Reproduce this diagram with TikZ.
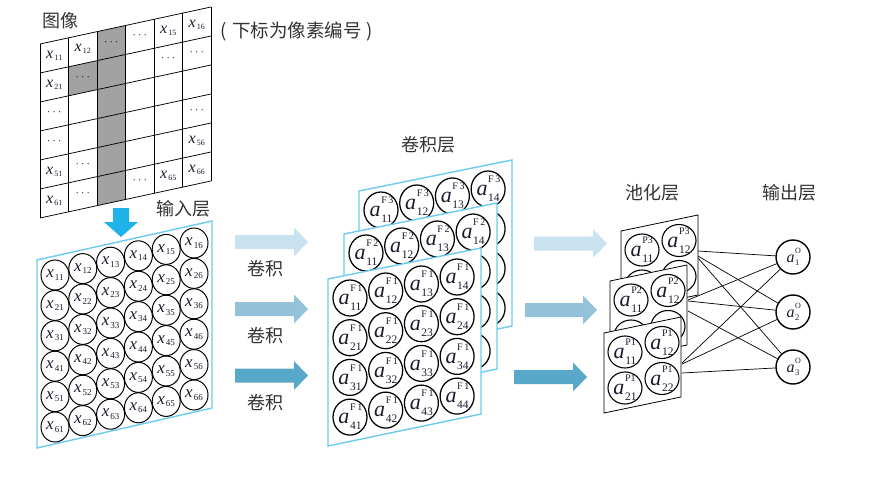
\documentclass[tikz,border=0pt]{standalone}
\usepackage{fontspec}
\setmainfont{Liberation Serif}
\newfontfamily\cjk{Noto Sans CJK SC}
\usetikzlibrary{shapes.geometric}
\definecolor{txt}{HTML}{333333}
\definecolor{ink}{HTML}{1C1C30}
\definecolor{layerblue}{HTML}{6DCBF0}
\definecolor{dblue}{HTML}{1FB3EA}
\definecolor{arA}{HTML}{C8E3EF}
\definecolor{arB}{HTML}{94C3D9}
\definecolor{arC}{HTML}{58A9C9}
\definecolor{cellgray}{HTML}{A2A2A2}
\newcommand{\xs}[1]{\textcolor{ink}{{\fontsize{16}{16}\selectfont\itshape x}\kern1.2pt\raisebox{-2pt}{\fontsize{8}{8}\selectfont #1}}}
\newcommand{\xin}[1]{\textcolor{ink}{{\fontsize{17}{17}\selectfont\itshape x}\kern1pt\raisebox{-2.5pt}{\fontsize{9}{9}\selectfont #1}}}
\newcommand{\dts}{{\fontsize{10}{10}\selectfont ·\kern2.2pt·\kern2.2pt·}}
\newcommand{\aF}[2]{\textcolor{ink}{{\fontsize{22}{22}\selectfont\itshape a}\kern0.6pt\makebox[0pt][l]{\raisebox{13pt}{\fontsize{10}{10}\selectfont #1}}\raisebox{-6pt}{\fontsize{11.5}{11.5}\selectfont #2}}}
\newcommand{\aO}[1]{\textcolor{ink}{{\fontsize{16}{16}\selectfont\itshape a}\kern0.5pt\makebox[0pt][l]{\raisebox{9pt}{\fontsize{8}{8}\selectfont O}}\raisebox{-2.5pt}{\fontsize{8.5}{8.5}\selectfont #1}}}
\tikzset{
  lbl/.style={font={\cjk\fontsize{18}{18}\selectfont}, text=txt, inner sep=0pt},
  gridline/.style={draw=black, line width=0.75pt},
  cell/.style={inner sep=0pt},
  incirc/.style={ellipse, draw=black, line width=1pt, minimum width=28pt, minimum height=30pt, inner sep=0pt},
  convcirc/.style={ellipse, draw=black, line width=1.25pt, minimum width=34pt, minimum height=36pt, inner sep=0pt},
  poolcirc/.style={ellipse, draw=black, line width=1.1pt, minimum width=34pt, minimum height=32pt, inner sep=0pt},
  outcirc/.style={circle, draw=black, line width=1.4pt, minimum size=34pt, inner sep=0pt},
  bluelayer/.style={draw=layerblue, line width=1.4pt, fill=white},
  poollayer/.style={draw=black, line width=0.8pt, fill=white},
  conn/.style={draw=black, line width=0.7pt},
}
\newcommand{\blockarrow}[5]{% x1, xh, x2, yc, colour
  \fill[#5] (#1,#4-7) -- (#2,#4-7) -- (#2,#4-14.5) -- (#3,#4) -- (#2,#4+14.5) -- (#2,#4+7) -- (#1,#4+7) -- cycle;}
% x, y, name, sup, number of rows whose labels are visible
\newcommand{\convlayer}[5]{%
  \begin{scope}[shift={(#1,#2)}]
    \draw[bluelayer] (0,0) -- (153,-31) -- (153,135) -- (0,167) -- cycle;
    \foreach \ro in {1,...,4}{
      \foreach \co in {1,...,4}{
        \ifnum\ro>#5\relax
          \node[convcirc] (#3-\ro\co) at ({22+35.7*(\co-1)},{19+39.7*(\ro-1)-7*(\co-1)}) {};
        \else
          \node[convcirc, label={center:\aF{#4}{\ro\co}}] (#3-\ro\co) at ({22+35.7*(\co-1)},{19+39.7*(\ro-1)-7*(\co-1)}) {};
        \fi
      }
    }
  \end{scope}}
\newcommand{\poollayer}[5]{%
  \begin{scope}[shift={(#1,#2)}]
    \draw[poollayer] (0,0) -- (77,-16) -- (77,64) -- (0,80) -- cycle;
    \foreach \ro in {1,2}{
      \foreach \co in {1,2}{
        \ifnum\ro>#5\relax
          \node[poolcirc] (#3-\ro\co) at ({21+37*(\co-1)},{19+36*(\ro-1)-9.5*(\co-1)}) {};
        \else
          \node[poolcirc, label={center:\aF{#4}{\ro\co}}] (#3-\ro\co) at ({21+37*(\co-1)},{19+36*(\ro-1)-9.5*(\co-1)}) {};
        \fi
      }
    }
  \end{scope}}
\begin{document}
\begin{tikzpicture}[x=1pt,y=-1pt]
\useasboundingbox (0,0) rectangle (879,482);
\fill[white] (0,0) rectangle (879,482);

% ---------- image grid ----------
\fill[cellgray] (97,{44-6.17*2}) -- (125.5,{44-6.17*3}) -- (125.5,{44-6.17*3+174}) -- (97,{44-6.17*2+174}) -- cycle;
\fill[cellgray] (68.5,{44-6.17+29}) -- (97,{44-6.17*2+29}) -- (97,{44-6.17*2+58}) -- (68.5,{44-6.17+58}) -- cycle;
\foreach \k in {0,...,6} \draw[gridline] ({40+28.5*\k},{44-6.17*\k}) -- ++(0,174);
\foreach \j in {0,...,6} \draw[gridline] (40,{44+29*\j}) -- (211,{44+29*\j-37.02});
\foreach \ro/\co/\t in {1/1/\xs{11}, 1/2/\xs{12}, 1/3/\dts, 1/4/\dts, 1/5/\xs{15}, 1/6/\xs{16},
  2/1/\xs{21}, 2/2/\dts, 2/5/\dts, 2/6/\dts, 3/1/\dts, 4/1/\dts, 4/6/\dts,
  5/1/\xs{51}, 5/2/\dts, 5/6/\xs{56}, 6/1/\xs{61}, 6/2/\dts, 6/4/\dts, 6/5/\xs{65}, 6/6/\xs{66}}
  \node[cell] (g\ro\co) at ({40+28.5*(\co-0.5)},{44-6.17*(\co-0.5)+29*(\ro-0.5)}) {\t};

\node[lbl] (limg) at (60,21) {图像};
\node[lbl, font={\cjk\fontsize{18.5}{18.5}\selectfont}] (lnote) at (297,31) {(\hspace{5pt}下标为像素编号\hspace{5pt})};
\node[lbl] (linput) at (183,209) {输入层};

% down arrow
\fill[dblue] (113,208) -- (129,208) -- (129,222) -- (138,222) -- (121,237) -- (104,222) -- (113,222) -- cycle;

% ---------- input layer ----------
\draw[bluelayer] (37,260) -- (212,221) -- (212,408) -- (37,448) -- cycle;
\foreach \ro in {1,...,6}{
  \foreach \co in {1,...,6}{
    \node[incirc, label={center:\xin{\ro\co}}] (in-\ro\co) at ({55+27.8*(\co-1)},{275+30.4*(\ro-1)-6.4*(\co-1)}) {};
  }
}

% ---------- arrows input -> conv ----------
\blockarrow{235}{294}{308}{242}{arA}
\blockarrow{235}{294}{308}{309}{arB}
\blockarrow{235}{294}{308}{375.5}{arC}
\node[lbl] (lc1) at (265,269) {卷积};
\node[lbl] (lc2) at (265,336) {卷积};
\node[lbl] (lc3) at (265,403) {卷积};

% ---------- conv layers ----------
\node[lbl] (lconv) at (428,145) {卷积层};
\convlayer{359}{191}{F3}{F\,3}{1}
\convlayer{344}{234}{F2}{F\,2}{1}
\convlayer{328}{279}{F1}{F\,1}{4}

% ---------- arrows conv -> pool ----------
\blockarrow{534}{593}{607}{243.5}{arA}
\blockarrow{525}{583}{597}{310}{arB}
\blockarrow{514}{573}{587}{377}{arC}

% ---------- output nodes and connections ----------
\node[lbl] (lpool) at (652,193) {池化层};
\node[lbl] (lout) at (789,193) {输出层};
\node[outcirc] (o1) at (793,257) {\aO{1}};
\node[outcirc] (o2) at (793,312) {\aO{2}};
\node[outcirc] (o3) at (793,367) {\aO{3}};
\coordinate (p3a) at (698,251); \coordinate (p3b) at (698,256); \coordinate (p3c) at (698,258);
\coordinate (p2a) at (688,300); \coordinate (p2b) at (688,301); \coordinate (p2c) at (688,311);
\coordinate (p1a) at (682,363); \coordinate (p1b) at (682,364); \coordinate (p1c) at (682,373);
\draw[conn] (p3a) -- (o1); \draw[conn] (p3b) -- (o2); \draw[conn] (p3c) -- (o3);
\draw[conn] (p2a) -- (o1); \draw[conn] (p2b) -- (o2); \draw[conn] (p2c) -- (o3);
\draw[conn] (p1a) -- (o1); \draw[conn] (p1b) -- (o2); \draw[conn] (p1c) -- (o3);

% ---------- pool layers ----------
\poollayer{621}{231}{P3}{P3}{1}
\poollayer{610}{281}{P2}{P2}{1}
\poollayer{604}{333}{P1}{P1}{2}
\end{tikzpicture}
\end{document}
